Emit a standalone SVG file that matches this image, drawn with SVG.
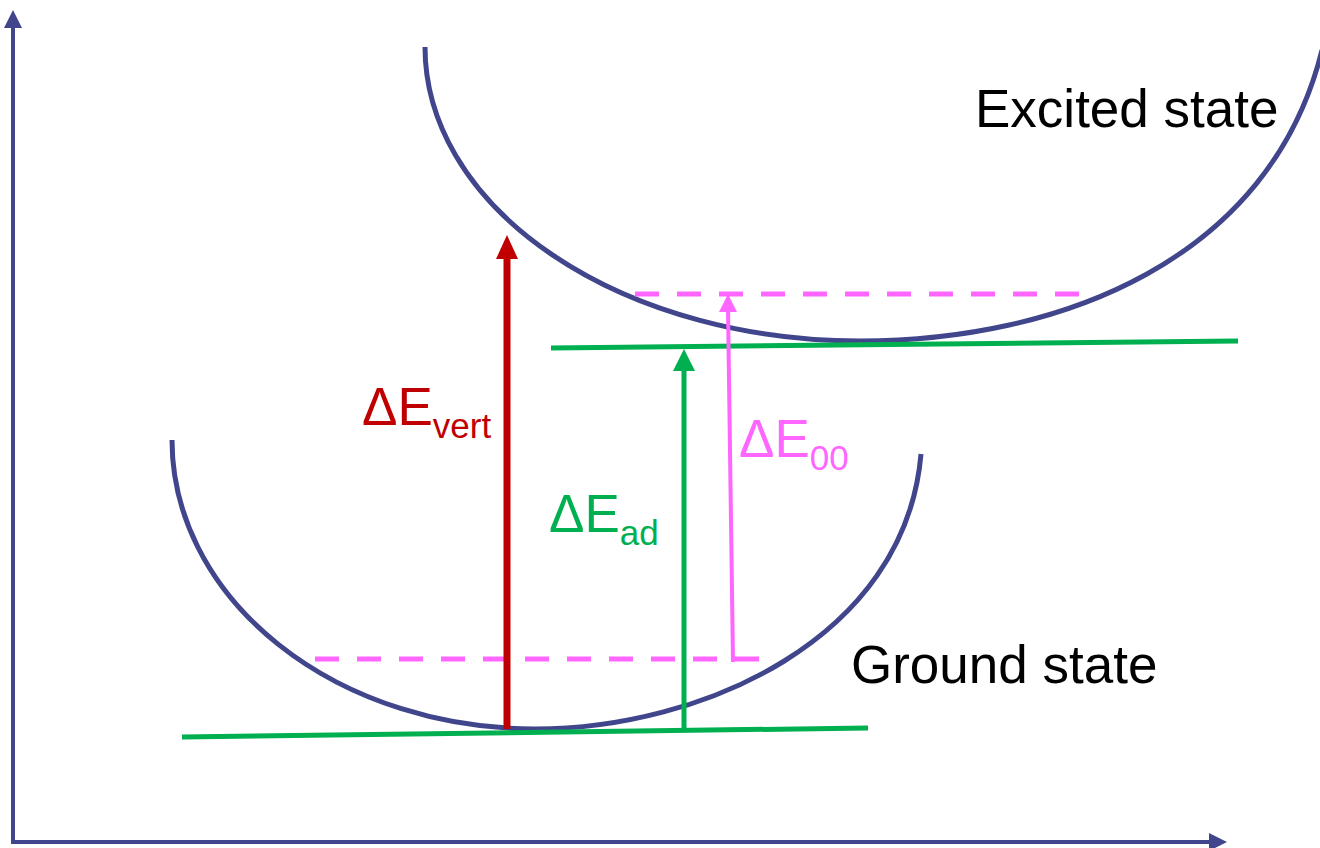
<svg xmlns="http://www.w3.org/2000/svg" width="1320" height="848" viewBox="0 0 1320 848">
<style>
.ax{stroke:#41468C;stroke-width:4;fill:none}
.curve{stroke:#41468C;stroke-width:5;fill:none}
.lvl{stroke:#00B050;stroke-width:5;fill:none}
.dash{stroke:#FF66FF;stroke-width:5;fill:none;stroke-dasharray:24 18}
.lbl{font-family:"Liberation Sans",Arial,sans-serif;font-size:53px}
.sub{font-size:35px}
</style>
<rect width="1320" height="848" fill="#fff"/>
<g id="axes">
<line class="ax" x1="13" y1="843" x2="13" y2="26"/>
<polygon points="13,10 4,28 22,28" fill="#41468C"/>
<line class="ax" x1="11" y1="842" x2="1211" y2="842"/>
<polygon points="1227,842 1209,833 1209,851" fill="#41468C"/>
</g>
<g id="ground-state">
<path class="curve" d="M172,440 A363,289 0 0 0 535,729 C700,729 905,640 921,454"/>
<text class="lbl" x="851" y="683" fill="#000">Ground state</text>
</g>
<g id="excited-state">
<path class="curve" d="M425,47 A435,294 0 0 0 860,341 C1060,341 1270,260 1322,50"/>
<text class="lbl" x="975" y="127" fill="#000">Excited state</text>
</g>
<g id="levels">
<line class="lvl" x1="182" y1="737" x2="868" y2="728"/>
<line class="lvl" x1="551" y1="348" x2="1238" y2="341"/>
<line class="dash" x1="315" y1="659" x2="765" y2="659"/>
<line class="dash" x1="635" y1="294" x2="1085" y2="294"/>
</g>
<g id="connectors">
<g id="e-vert">
<line x1="507" y1="729" x2="507" y2="255" stroke="#C00000" stroke-width="7"/>
<polygon points="507,235 496,259 518,259" fill="#C00000"/>
</g>
<g id="e-ad">
<line x1="684" y1="729" x2="684" y2="368" stroke="#00B050" stroke-width="5"/>
<polygon points="684,349 673,371 695,371" fill="#00B050"/>
</g>
<g id="e-00">
<line x1="733" y1="662" x2="728" y2="308" stroke="#FF66FF" stroke-width="4"/>
<polygon points="728,294 719,312 737,312" fill="#FF66FF"/>
</g>
</g>
<g id="labels">
<text class="lbl" x="362" y="425" fill="#C00000">ΔE<tspan class="sub" dy="13">vert</tspan></text>
<text class="lbl" x="549" y="532" fill="#00B050">ΔE<tspan class="sub" dy="13">ad</tspan></text>
<text class="lbl" x="739" y="457" fill="#FF66FF">ΔE<tspan class="sub" dy="13">00</tspan></text>
</g>
</svg>
